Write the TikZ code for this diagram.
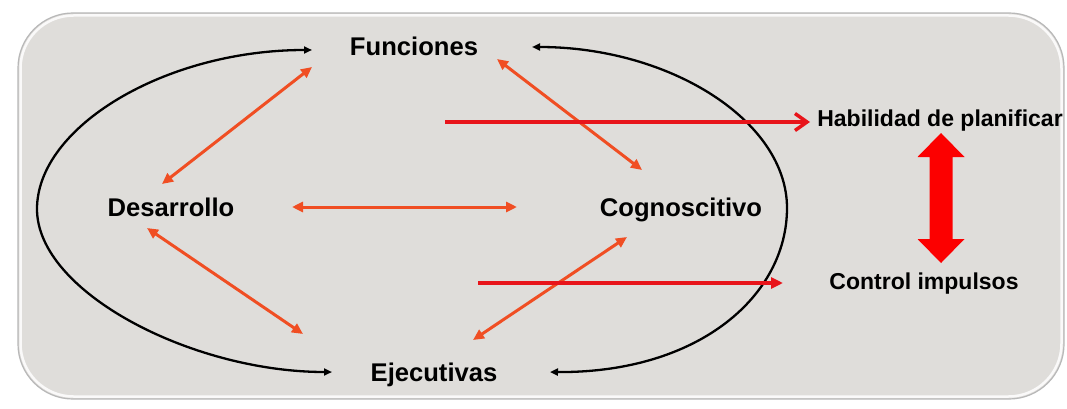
\documentclass[tikz,border=0pt]{standalone}
\usepackage{fontspec}
\setmainfont{Liberation Sans}
\usetikzlibrary{arrows.meta}
\definecolor{panel}{RGB}{223,221,218}
\definecolor{orng}{RGB}{240,78,35}
\definecolor{rline}{RGB}{232,20,26}
\definecolor{rblock}{RGB}{252,0,0}
\begin{document}
\begin{tikzpicture}[x=1pt,y=-1pt,
  lbl/.style={font=\bfseries\fontsize{25.6}{30}\selectfont, anchor=base, inner sep=0pt},
  slbl/.style={font=\bfseries\fontsize{23}{27}\selectfont, anchor=base, inner sep=0pt},
  loop/.style={draw=black, line width=2.3pt, {Triangle[length=8pt,width=7pt]}-{Triangle[length=8pt,width=7pt]}},
  link/.style={draw=orng, line width=3pt, {Triangle[length=11pt,width=10pt]}-{Triangle[length=11pt,width=10pt]}},
  planarrow/.style={draw=rline, line width=3.5pt, -{Straight Barb[length=12pt,width=17pt]}},
  ctrlarrow/.style={draw=rline, line width=3.5pt, -{Triangle[length=12pt,width=11pt]}}
]
\useasboundingbox (0,0) rectangle (1067,409);
\fill[white] (0,0) rectangle (1067,409);
% panel
\draw[line width=1.2pt, black!28, fill=panel, rounded corners=55pt] (18,13) rectangle (1064,399);
\draw[line width=2.5pt, white, opacity=0.85, rounded corners=53pt] (20.5,15.5) rectangle (1061.5,396.5);

% labels
\node[lbl] (fun) at (414,56) {Funciones};
\node[lbl] (des) at (171,216) {Desarrollo};
\node[lbl] (cog) at (681,216) {Cognoscitivo};
\node[lbl] (eje) at (434,381) {Ejecutivas};
\node[slbl] (hab) at (940,127) {Habilidad de planificar};
\node[slbl] (ctl) at (924,289) {Control impulsos};

% connector end points
\coordinate (lt) at (312,50);
\coordinate (lb) at (332,372);
\coordinate (rt) at (532,47);
\coordinate (rb) at (550,372);
\coordinate (fd1) at (312,67);  \coordinate (fd2) at (162,184);
\coordinate (de1) at (147,228); \coordinate (de2) at (303,334);
\coordinate (dc1) at (292,207); \coordinate (dc2) at (517,207);
\coordinate (fc1) at (497,59);  \coordinate (fc2) at (642,170);
\coordinate (ec1) at (473,340); \coordinate (ec2) at (627,237);
\coordinate (p1) at (445,122);  \coordinate (p2) at (810,122);
\coordinate (c1) at (478,283);  \coordinate (c2) at (783,283);
\coordinate (bt) at (941,133);  \coordinate (bb) at (941,263);

% black loops
\draw[loop] (lt) .. controls (165,50) and (37,127) .. (37,209) .. controls (37,292) and (192,372) .. (lb);
\draw[loop] (rt) .. controls (670,47) and (787,121) .. (787,208) .. controls (787,295) and (700,373) .. (rb);

% orange links
\draw[link] (fd1) -- (fd2);
\draw[link] (de1) -- (de2);
\draw[link] (dc1) -- (dc2);
\draw[link] (fc1) -- (fc2);
\draw[link] (ec1) -- (ec2);

% red arrows
\draw[planarrow] (p1) -- (p2);
\draw[ctrlarrow] (c1) -- (c2);

% block double arrow
\fill[rblock] (bt) -- ++(23.5,24) -- ++(-12,0) -- ++(0,82) -- ++(12,0) -- (bb)
  -- ++(-23.5,-24) -- ++(12,0) -- ++(0,-82) -- ++(-12,0) -- cycle;
\end{tikzpicture}
\end{document}
